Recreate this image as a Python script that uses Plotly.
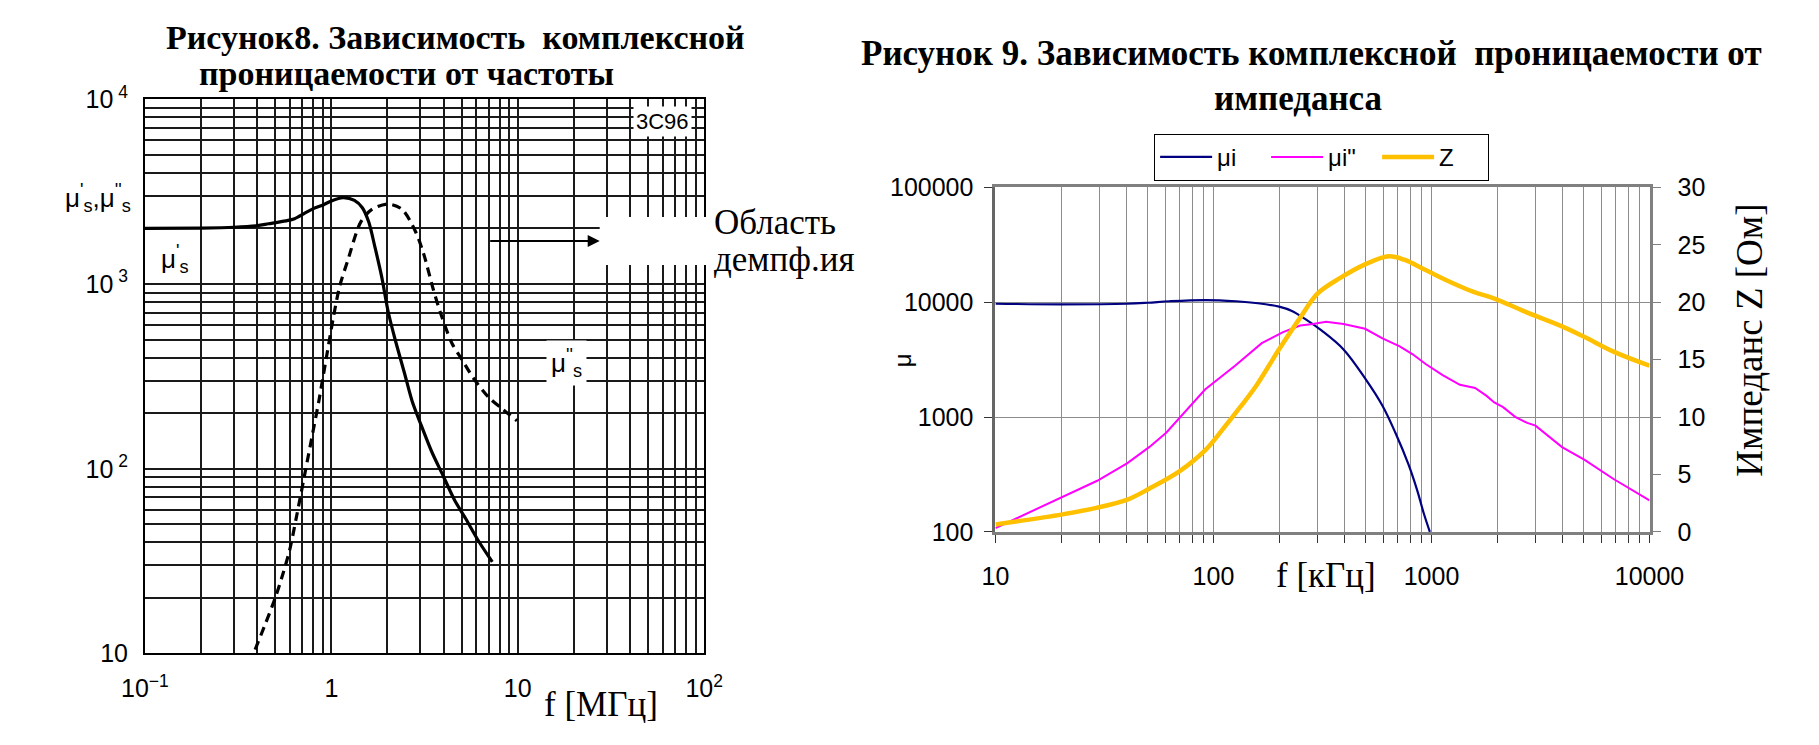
import numpy as np
import plotly.graph_objects as go

W, H = 1819, 745

# ---------------- data: left chart (Рисунок 8) ----------------
f_mu_s1 = [0.1, 0.2, 0.3, 0.4, 0.46, 0.57, 0.635, 0.72, 0.8, 0.909, 1.0, 1.154, 1.33, 1.466, 1.587, 1.716, 1.86,
           2.016, 2.18, 2.46, 2.71, 3.0, 3.45, 3.97, 4.57, 5.26, 6.17, 7.3]
mu_s1 = [2000, 2010, 2030, 2070, 2120, 2200, 2260, 2420, 2560, 2690, 2820, 2940, 2840, 2590, 2165, 1573, 1100,
         710, 517, 333, 233, 177, 124, 92, 68, 53.6, 40.5, 31.3]

f_mu_s2 = [0.39, 0.443, 0.5, 0.55, 0.6, 0.65, 0.725, 0.8, 0.857, 0.93, 1.024, 1.11, 1.225, 1.437, 1.65, 2.016, 2.4,
           2.83, 3.13, 3.52, 3.88, 4.44, 5.01, 5.8, 7.0, 8.3, 9.9]
mu_s2 = [10.5, 14.5, 20, 27, 37, 55, 97, 162, 233, 375, 656, 980, 1343, 2165, 2535, 2713, 2535,
         1920, 1452, 937, 682, 477, 391, 308, 243, 210, 182]

region_f = [0.9, 7.0]        # МГц
region_mu = [675, 4000]

left_x_decades = [0.1, 1, 10, 100]
left_x_labels = ["10<sup>−1</sup>", "1", "10", "10<sup>2</sup>"]
left_y_decades = [10, 100, 1000, 10000]
left_y_labels = ["10", "10<sup> 2</sup>", "10<sup> 3</sup>", "10<sup> 4</sup>"]

# ---------------- data: right chart (Рисунок 9) ----------------
f_mui = [10, 20, 40, 50, 63, 91.5, 127, 160, 200, 229, 262, 314, 395, 496, 595, 683, 785, 860, 920, 983]
mui = [9700, 9600, 9700, 9900, 10200, 10450, 10200, 9800, 9150, 8400, 7200, 5650, 3880, 2170, 1260, 730, 385, 230,
       147, 100]

f_mui2 = [10, 20.3, 29.3, 40.3, 50.7, 60.7, 69.7, 91.5, 126, 166.5, 208.5, 250, 286, 328.5, 395, 496, 596, 715, 820,
          940, 1125, 1350, 1585, 1790, 1940, 2130, 2420, 2750, 3000, 3970, 5040, 6840, 10000]
mui2 = [108, 202, 279, 397, 547, 730, 975, 1740, 2810, 4400, 5500, 6270, 6470, 6770, 6470, 5870, 4840, 4130, 3520,
        2900, 2320, 1910, 1790, 1530, 1340, 1220, 1005, 890, 842, 548, 424, 289, 188]

f_z = [10, 20.3, 29, 40, 50.7, 70, 91.5, 110, 132.5, 158, 200, 250, 300, 380, 496, 639, 750, 940, 1240, 1560, 1960,
       2670, 3970, 5040, 6840, 10000]
z_ohm = [0.64, 1.53, 2.09, 2.79, 3.76, 5.29, 7.1, 8.91, 10.86, 12.8, 15.9, 18.66, 20.75, 22.1, 23.3, 24.0, 23.7,
         22.8, 21.7, 20.9, 20.3, 19.2, 17.9, 16.97, 15.7, 14.47]

right_x_decades = [10, 100, 1000, 10000]
right_y_decades = [100, 1000, 10000, 100000]
z_ticks = [0, 5, 10, 15, 20, 25, 30]


def px(x):
    return x / W


def py(y):
    return 1 - y / H


def log_grid(decades):
    vals = []
    for d in decades[:-1]:
        for m in range(1, 10):
            vals.append(m * d)
    vals.append(decades[-1])
    return vals


SANS = "Arial, Liberation Sans, sans-serif"
SERIF = "Times New Roman, Liberation Serif, serif"

fig = go.Figure()

# left chart traces
fig.add_trace(go.Scatter(x=f_mu_s1, y=mu_s1, mode="lines",
                         line=dict(color="black", width=3.2, shape="spline", smoothing=0.8),
                         xaxis="x", yaxis="y", showlegend=False))
fig.add_trace(go.Scatter(x=f_mu_s2, y=mu_s2, mode="lines",
                         line=dict(color="black", width=3.2, dash="9px,6px", shape="spline", smoothing=0.8),
                         xaxis="x", yaxis="y", showlegend=False))

# right chart traces
fig.add_trace(go.Scatter(x=f_mui, y=mui, mode="lines", name="μi",
                         line=dict(color="#000080", width=2.2, shape="spline"),
                         xaxis="x2", yaxis="y2"))
fig.add_trace(go.Scatter(x=f_mui2, y=mui2, mode="lines", name='μi"', line=dict(color="#FF00FF", width=2),
                         xaxis="x2", yaxis="y2"))
fig.add_trace(go.Scatter(x=f_z, y=z_ohm, mode="lines", name="Z",
                         line=dict(color="#FFC000", width=4.5, shape="spline"),
                         xaxis="x2", yaxis="y3"))

lx = log_grid(left_x_decades)
ly = log_grid(left_y_decades)
rx = log_grid(right_x_decades)

fig.update_layout(
    width=W, height=H,
    margin=dict(l=0, r=0, t=0, b=0, pad=0),
    paper_bgcolor="white", plot_bgcolor="white",
    font=dict(family=SANS, size=24, color="black"),
    xaxis=dict(type="log", range=[-1, 2], domain=[px(125), px(703)], anchor="y",
               tickmode="array", tickvals=lx,
               ticktext=[left_x_labels[left_x_decades.index(v)] if v in left_x_decades else "" for v in lx],
               showgrid=True, gridcolor="#1a1a1a", gridwidth=1.7,
               showline=True, linecolor="black", linewidth=2, mirror=True,
               ticks="", ticklabelstandoff=12, tickfont=dict(size=25), zeroline=False),
    yaxis=dict(type="log", range=[1, 4], domain=[py(664), py(85)], anchor="x",
               tickmode="array", tickvals=ly,
               ticktext=[left_y_labels[left_y_decades.index(v)] if v in left_y_decades else "" for v in ly],
               showgrid=True, gridcolor="#1a1a1a", gridwidth=1.7,
               showline=True, linecolor="black", linewidth=2, mirror=True,
               ticks="", ticklabelstandoff=10, tickfont=dict(size=25), zeroline=False),
    xaxis2=dict(type="log", range=[1, 4], domain=[px(1004), px(1680)], anchor="y2",
                tickmode="array", tickvals=rx,
                ticktext=[str(v) if v in right_x_decades else "" for v in rx],
                showgrid=True, gridcolor="#8c8c8c", gridwidth=1,
                showline=True, linecolor="#808080", linewidth=3, mirror=True,
                ticks="outside", ticklen=8, tickcolor="#333", tickwidth=1,
                ticklabelstandoff=12, tickfont=dict(size=25), zeroline=False),
    yaxis2=dict(type="log", range=[2, 5], domain=[py(537), py(177)], anchor="x2",
                tickmode="array", tickvals=right_y_decades, ticktext=[str(v) for v in right_y_decades],
                showgrid=True, gridcolor="#8c8c8c", gridwidth=1,
                showline=True, linecolor="#666", linewidth=3, mirror=True,
                ticks="outside", ticklen=8, tickcolor="#333", tickwidth=1,
                ticklabelstandoff=6, tickfont=dict(size=25), zeroline=False),
    yaxis3=dict(range=[0, 30], overlaying="y2", side="right", anchor="x2",
                tickmode="array", tickvals=z_ticks, showgrid=False,
                showline=True, linecolor="#808080", linewidth=3,
                ticks="outside", ticklen=8, tickcolor="#808080", tickwidth=1,
                ticklabelstandoff=12, tickfont=dict(size=25), zeroline=False),
    legend=dict(orientation="h", x=px(1168), y=py(121), xanchor="left", yanchor="top",
                bordercolor="black", borderwidth=1, bgcolor="white",
                font=dict(family=SANS, size=24), entrywidth=44, entrywidthmode="pixels",
                tracegroupgap=0, itemwidth=52),
    showlegend=True,
)

shapes = [
    dict(type="rect", xref="x", yref="y",
         x0=np.log10(region_f[0]), x1=np.log10(region_f[1]),
         y0=np.log10(region_mu[0]), y1=np.log10(region_mu[1]),
         fillcolor="rgba(255,0,0,0.34)", line=dict(color="#ff1a1a", width=1.2), layer="between"),
    dict(type="rect", xref="paper", yref="paper", x0=px(595), x1=px(712), y0=py(258), y1=py(208),
         fillcolor="white", line=dict(width=0), layer="above"),
]
fig.update_layout(shapes=shapes)

ann = []
# titles
ann.append(dict(text="<b>Рисунок8.&nbsp;Зависимость&nbsp;&nbsp;комплексной</b>", x=px(145), y=py(20), xref="paper",
                yref="paper", xanchor="left", yanchor="middle", showarrow=False,
                font=dict(family=SERIF, size=34)))
ann.append(dict(text="<b>проницаемости от частоты</b>", x=px(179), y=py(58), xref="paper", yref="paper",
                xanchor="left", yanchor="middle", showarrow=False, font=dict(family=SERIF, size=34)))
ann.append(dict(text="<b>Рисунок 9. Зависимость комплексной&nbsp;&nbsp;проницаемости от</b>", x=px(1331), y=py(37),
                xref="paper", yref="paper", xanchor="center", yanchor="middle", showarrow=False,
                font=dict(family=SERIF, size=35)))
ann.append(dict(text="<b>импеданса</b>", x=px(1317), y=py(84), xref="paper", yref="paper",
                xanchor="center", yanchor="middle", showarrow=False, font=dict(family=SERIF, size=35)))
# left chart labels
ann.append(dict(text="3C96", x=px(660), y=py(108), xref="paper", yref="paper", xanchor="center", yanchor="middle",
                showarrow=False, bgcolor="white", font=dict(family=SANS, size=22), borderpad=2))
ann.append(dict(text="μ<sup>'</sup><sub>s</sub>,μ<sup>''</sup><sub>s</sub>", x=px(113), y=py(188), xref="paper",
                yref="paper", xanchor="right", yanchor="middle", showarrow=False, font=dict(family=SANS, size=26)))
ann.append(dict(text="μ<sup>'</sup><sub>s</sub>", x=px(156), y=py(252), xref="paper", yref="paper",
                xanchor="center", yanchor="middle", showarrow=False, font=dict(family=SANS, size=26)))
ann.append(dict(text="μ<sup>''</sup><sub>s</sub>", x=px(561), y=py(360), xref="paper", yref="paper",
                xanchor="center", yanchor="middle", showarrow=False, bgcolor="white", borderpad=4,
                font=dict(family=SANS, size=26)))
ann.append(dict(text="", x=px(595), y=py(233), xref="paper", yref="paper", ax=-111, ay=0,
                showarrow=True, arrowhead=2, arrowsize=1.2, arrowwidth=2, arrowcolor="black"))
ann.append(dict(text="Область", x=px(711), y=py(214), xref="paper", yref="paper", xanchor="left",
                yanchor="middle", showarrow=False, font=dict(family=SERIF, size=35)))
ann.append(dict(text="демпф.ия", x=px(711), y=py(252), xref="paper", yref="paper", xanchor="left",
                yanchor="middle", showarrow=False, font=dict(family=SERIF, size=35)))
ann.append(dict(text="f [МГц]", x=px(596), y=py(717), xref="paper", yref="paper", xanchor="center",
                yanchor="middle", showarrow=False, font=dict(family=SERIF, size=35)))
# right chart labels
ann.append(dict(text="f [кГц]", x=px(1346), y=py(583), xref="paper", yref="paper", xanchor="center",
                yanchor="middle", showarrow=False, font=dict(family=SERIF, size=35)))
ann.append(dict(text="μ", x=px(908), y=py(358), xref="paper", yref="paper", xanchor="center",
                yanchor="middle", textangle=-90, showarrow=False, font=dict(family=SANS, size=24)))
ann.append(dict(text="Импеданс Z [Ом]", x=px(1783), y=py(337), xref="paper", yref="paper", xanchor="center",
                yanchor="middle", textangle=-90, showarrow=False, font=dict(family=SERIF, size=37)))
fig.update_layout(annotations=ann)

fig.write_html("out.html", config={"displayModeBar": False},
               post_script="document.body.style.margin='0px';")
